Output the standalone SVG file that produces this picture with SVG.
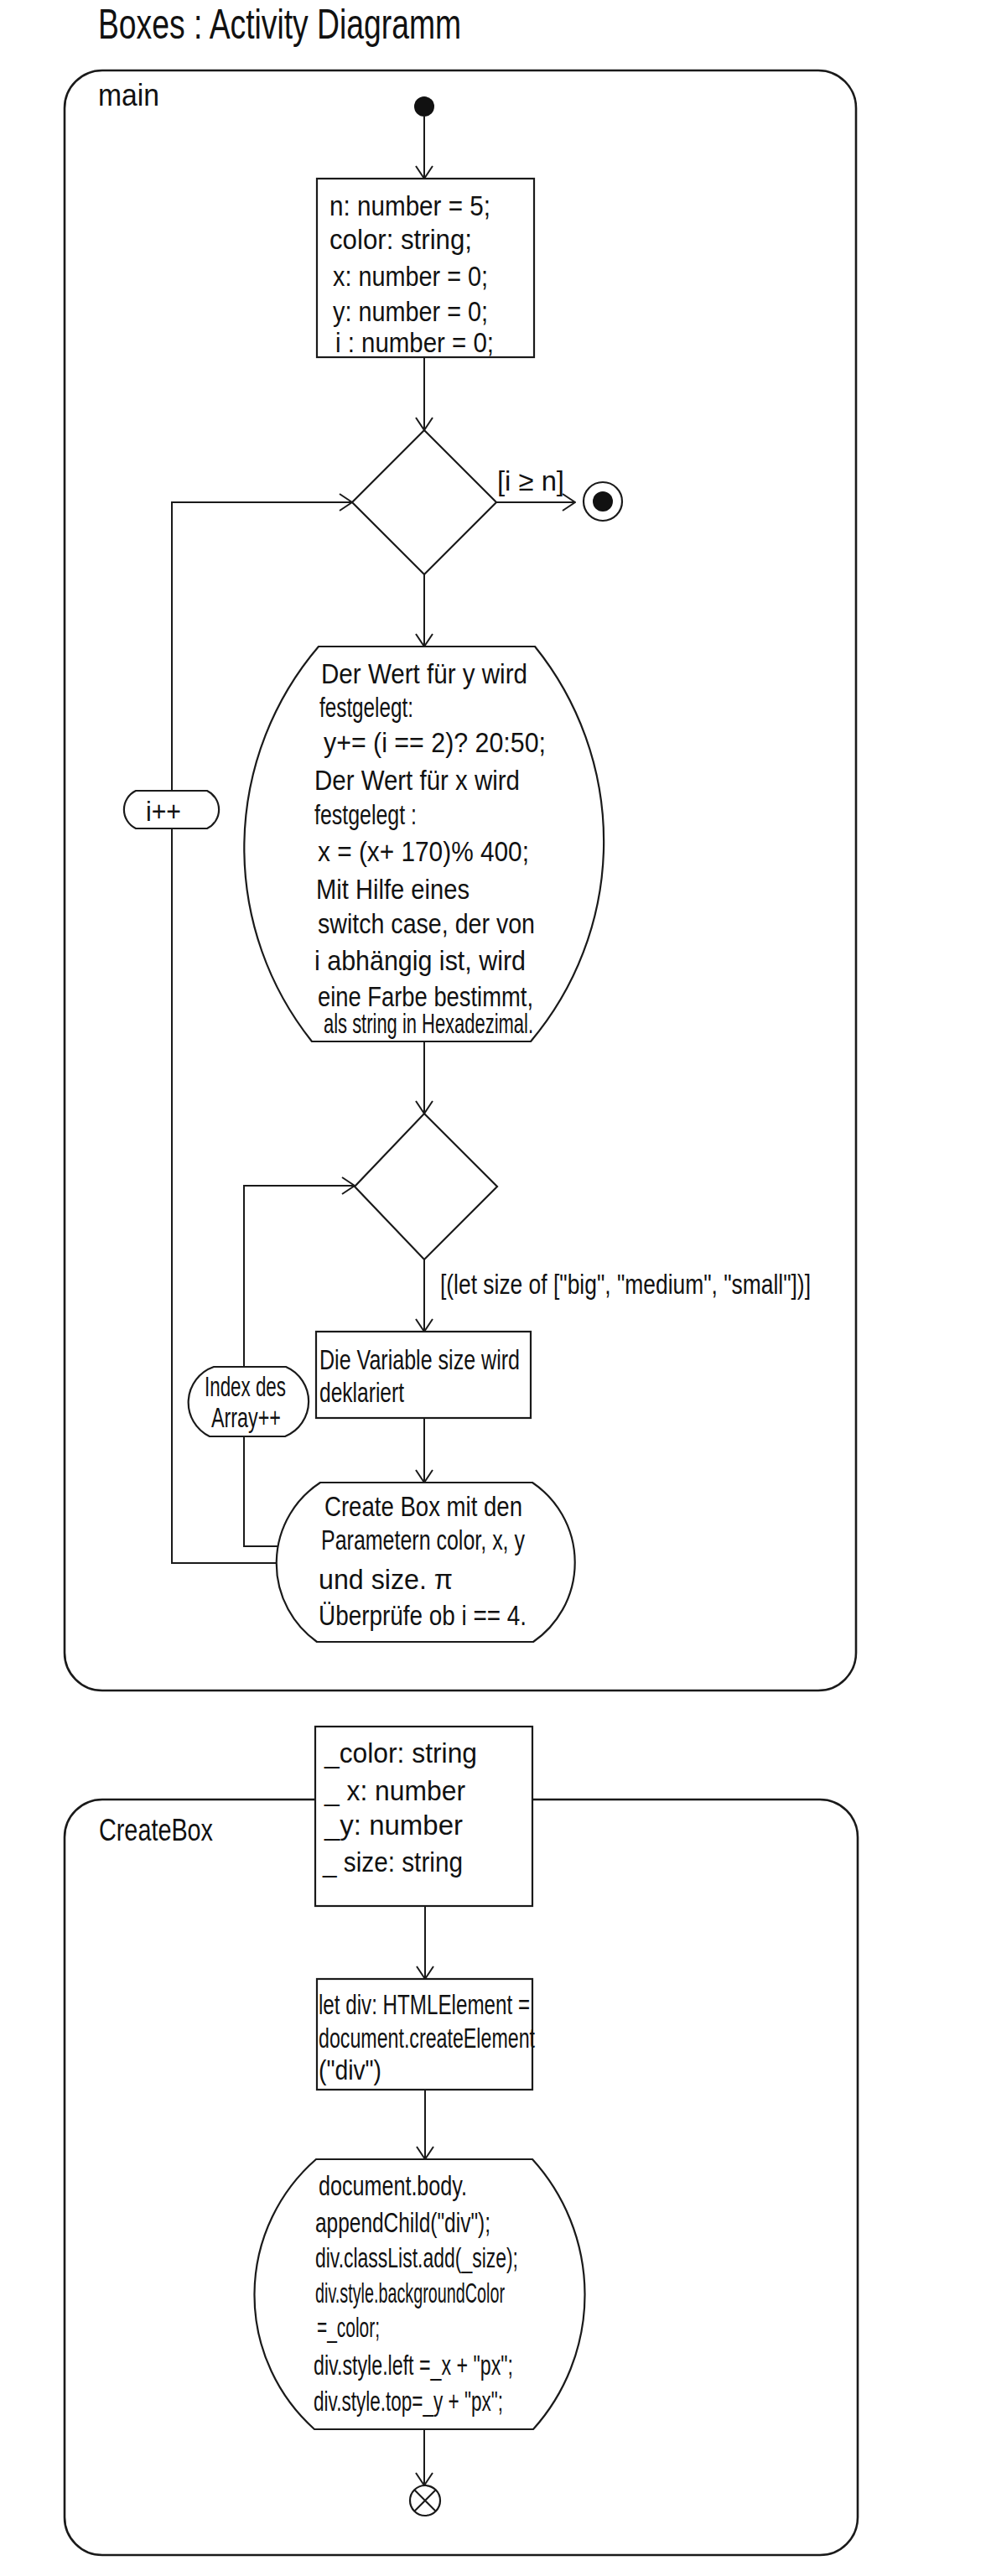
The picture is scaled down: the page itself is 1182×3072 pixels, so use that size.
<svg xmlns="http://www.w3.org/2000/svg" width="1182" height="3072" viewBox="0 0 1182 3072">
  <style>
    .frame { fill: none; stroke: #1a1a1a; stroke-width: 2.6; }
    .shape { fill: #fff; stroke: #1a1a1a; stroke-width: 2.2; }
    .edge { fill: none; stroke: #1a1a1a; stroke-width: 2; }
    .t { font-family: "Liberation Sans", Arial, sans-serif; font-size: 33px; fill: #111; }
    .lbl { font-family: "Liberation Sans", Arial, sans-serif; font-size: 36px; fill: #111; }
    .title { font-family: "Liberation Sans", Arial, sans-serif; font-size: 50px; fill: #111; }
  </style>
  <defs>
    <marker id="arrow" markerUnits="userSpaceOnUse" viewBox="0 0 17 22" refX="16" refY="11" markerWidth="17" markerHeight="22" orient="auto">
      <path d="M1,1 L16,11 L1,21" fill="none" stroke="#1a1a1a" stroke-width="2"/>
    </marker>
  </defs>
  <rect width="1182" height="3072" fill="#fff"/>

  <!-- title -->
  <text class="title" x="117" y="46" textLength="433" lengthAdjust="spacingAndGlyphs">Boxes : Activity Diagramm</text>

  <!-- activity frames -->
  <g id="frame-main">
    <rect class="frame" x="77" y="84" width="944" height="1932" rx="45" ry="45"/>
    <text class="lbl" x="117" y="126" textLength="73" lengthAdjust="spacingAndGlyphs">main</text>
  </g>
  <g id="frame-createBox">
    <rect class="frame" x="77" y="2146" width="946" height="901" rx="45" ry="45"/>
    <text class="lbl" x="118" y="2195" textLength="136" lengthAdjust="spacingAndGlyphs">CreateBox</text>
  </g>

  <!-- connectors -->
  <g id="connectors">
    <line class="edge" x1="506" y1="139" x2="506" y2="213" marker-end="url(#arrow)"/>
    <line class="edge" x1="506" y1="426" x2="506" y2="513" marker-end="url(#arrow)"/>
    <line class="edge" x1="592" y1="599" x2="686" y2="599" marker-end="url(#arrow)"/>
    <line class="edge" x1="506" y1="685" x2="506" y2="771" marker-end="url(#arrow)"/>
    <line class="edge" x1="506" y1="1242" x2="506" y2="1328" marker-end="url(#arrow)"/>
    <line class="edge" x1="506" y1="1502" x2="506" y2="1588" marker-end="url(#arrow)"/>
    <line class="edge" x1="506" y1="1691" x2="506" y2="1768" marker-end="url(#arrow)"/>
    <polyline class="edge" points="332,1864 205,1864 205,599 420,599" marker-end="url(#arrow)"/>
    <polyline class="edge" points="333,1844 291,1844 291,1414 423,1414" marker-end="url(#arrow)"/>
    <line class="edge" x1="507" y1="2273" x2="507" y2="2360" marker-end="url(#arrow)"/>
    <line class="edge" x1="507" y1="2492" x2="507" y2="2575" marker-end="url(#arrow)"/>
    <line class="edge" x1="506" y1="2897" x2="506" y2="2964" marker-end="url(#arrow)"/>
    <text class="t" x="593" y="585" textLength="80" lengthAdjust="spacingAndGlyphs">[i ≥ n]</text>
    <text class="t" x="525" y="1543" textLength="442" lengthAdjust="spacingAndGlyphs">[(let size of ["big", "medium", "small"])]</text>
  </g>

  <!-- main activity nodes -->
  <g id="start">
    <circle cx="506" cy="127" r="12" fill="#111"/>
  </g>

  <g id="init-vars">
    <rect class="shape" x="378" y="213" width="259" height="213"/>
    <text class="t" x="393" y="257" textLength="192" lengthAdjust="spacingAndGlyphs">n: number = 5;</text>
    <text class="t" x="393" y="297" textLength="170" lengthAdjust="spacingAndGlyphs">color: string;</text>
    <text class="t" x="397" y="341" textLength="185" lengthAdjust="spacingAndGlyphs">x: number = 0;</text>
    <text class="t" x="397" y="383" textLength="185" lengthAdjust="spacingAndGlyphs">y: number = 0;</text>
    <text class="t" x="400" y="420" textLength="189" lengthAdjust="spacingAndGlyphs">i : number = 0;</text>
  </g>

  <g id="decision-loop">
    <polygon class="shape" points="506,513 592,599 506,685 420,599"/>
  </g>

  <g id="end">
    <circle cx="719" cy="598" r="23" fill="#fff" stroke="#1a1a1a" stroke-width="2.2"/>
    <circle cx="719" cy="598" r="12" fill="#111"/>
  </g>

  <g id="compute-values">
    <path class="shape" d="M380,771 L638,771 A370,370 0 0 1 633,1242 L372,1242 A370,370 0 0 1 380,771 Z"/>
    <text class="t" x="383" y="815" textLength="246" lengthAdjust="spacingAndGlyphs">Der Wert für y wird</text>
    <text class="t" x="381" y="855" textLength="112" lengthAdjust="spacingAndGlyphs">festgelegt:</text>
    <text class="t" x="386" y="897" textLength="265" lengthAdjust="spacingAndGlyphs">y+= (i == 2)? 20:50;</text>
    <text class="t" x="375" y="942" textLength="245" lengthAdjust="spacingAndGlyphs">Der Wert für x wird</text>
    <text class="t" x="375" y="983" textLength="122" lengthAdjust="spacingAndGlyphs">festgelegt :</text>
    <text class="t" x="379" y="1027" textLength="252" lengthAdjust="spacingAndGlyphs">x = (x+ 170)% 400;</text>
    <text class="t" x="377" y="1072" textLength="183" lengthAdjust="spacingAndGlyphs">Mit Hilfe eines</text>
    <text class="t" x="379" y="1113" textLength="259" lengthAdjust="spacingAndGlyphs">switch case, der von</text>
    <text class="t" x="375" y="1157" textLength="252" lengthAdjust="spacingAndGlyphs">i abhängig ist, wird</text>
    <text class="t" x="379" y="1200" textLength="257" lengthAdjust="spacingAndGlyphs">eine Farbe bestimmt,</text>
    <text class="t" x="386" y="1232" textLength="250" lengthAdjust="spacingAndGlyphs">als string in Hexadezimal.</text>
  </g>

  <g id="increment-i">
    <path class="shape" d="M162,943 L247,943 A25,25 0 0 1 247,988 L162,988 A25,25 0 0 1 162,943 Z"/>
    <text class="t" x="174" y="979" textLength="42" lengthAdjust="spacingAndGlyphs">i++</text>
  </g>

  <g id="decision-size">
    <polygon class="shape" points="506,1328 593,1415 506,1502 423,1415"/>
  </g>

  <g id="declare-size">
    <rect class="shape" x="377" y="1588" width="256" height="103"/>
    <text class="t" x="381" y="1633" textLength="239" lengthAdjust="spacingAndGlyphs">Die Variable size wird</text>
    <text class="t" x="381" y="1672" textLength="101" lengthAdjust="spacingAndGlyphs">deklariert</text>
  </g>

  <g id="increment-index">
    <path class="shape" d="M255,1630 L341,1630 A45,45 0 0 1 340,1713 L250,1713 A45,45 0 0 1 255,1630 Z"/>
    <text class="t" x="244" y="1665" font-size="29" textLength="97" lengthAdjust="spacingAndGlyphs">Index des</text>
    <text class="t" x="252" y="1702" font-size="29" textLength="83" lengthAdjust="spacingAndGlyphs">Array++</text>
  </g>

  <g id="call-createBox">
    <path class="shape" d="M382,1768 L635,1768 A115,115 0 0 1 636,1958 L378,1958 A115,115 0 0 1 382,1768 Z"/>
    <text class="t" x="387" y="1808" textLength="236" lengthAdjust="spacingAndGlyphs">Create Box mit den</text>
    <text class="t" x="383" y="1848" textLength="243" lengthAdjust="spacingAndGlyphs">Parametern color, x, y</text>
    <text class="t" x="380" y="1895" textLength="160" lengthAdjust="spacingAndGlyphs">und size. π</text>
    <text class="t" x="380" y="1938" textLength="248" lengthAdjust="spacingAndGlyphs">Überprüfe ob i == 4.</text>
  </g>

  <!-- createBox activity nodes -->
  <g id="params">
    <rect class="shape" x="376" y="2059" width="259" height="214"/>
    <text class="t" x="387" y="2102" textLength="182" lengthAdjust="spacingAndGlyphs">_color: string</text>
    <text class="t" x="387" y="2147" textLength="168" lengthAdjust="spacingAndGlyphs">_ x: number</text>
    <text class="t" x="387" y="2188" textLength="165" lengthAdjust="spacingAndGlyphs">_y: number</text>
    <text class="t" x="385" y="2232" textLength="167" lengthAdjust="spacingAndGlyphs">_ size: string</text>
  </g>

  <g id="create-div">
    <rect class="shape" x="378" y="2360" width="257" height="132"/>
    <text class="t" x="380" y="2402" textLength="252" lengthAdjust="spacingAndGlyphs">let div: HTMLElement =</text>
    <text class="t" x="380" y="2442" textLength="258" lengthAdjust="spacingAndGlyphs">document.createElement</text>
    <text class="t" x="380" y="2480" textLength="75" lengthAdjust="spacingAndGlyphs">("div")</text>
  </g>

  <g id="style-div">
    <path class="shape" d="M377,2575 L635,2575 A240,240 0 0 1 636,2897 L375,2897 A215,215 0 0 1 377,2575 Z"/>
    <text class="t" x="380" y="2618" textLength="177" lengthAdjust="spacingAndGlyphs">document.body.</text>
    <text class="t" x="376" y="2662" textLength="209" lengthAdjust="spacingAndGlyphs">appendChild("div");</text>
    <text class="t" x="376" y="2704" textLength="242" lengthAdjust="spacingAndGlyphs">div.classList.add(_size);</text>
    <text class="t" x="376" y="2746" textLength="226" lengthAdjust="spacingAndGlyphs">div.style.backgroundColor</text>
    <text class="t" x="378" y="2787" textLength="75" lengthAdjust="spacingAndGlyphs">=_color;</text>
    <text class="t" x="374" y="2832" textLength="238" lengthAdjust="spacingAndGlyphs">div.style.left =_x + "px";</text>
    <text class="t" x="374" y="2875" textLength="226" lengthAdjust="spacingAndGlyphs">div.style.top=_y + "px";</text>
  </g>

  <g id="flow-final">
    <circle cx="507" cy="2982" r="18" fill="#fff" stroke="#1a1a1a" stroke-width="2.2"/>
    <path d="M494.3,2969.3 L519.7,2994.7 M519.7,2969.3 L494.3,2994.7" stroke="#1a1a1a" stroke-width="2"/>
  </g>
</svg>
